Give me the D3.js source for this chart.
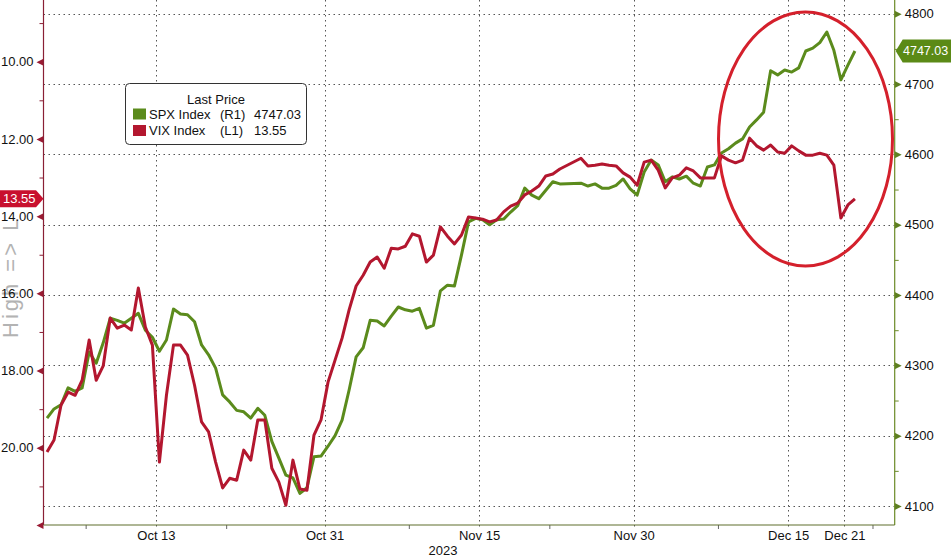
<!DOCTYPE html>
<html><head><meta charset="utf-8">
<script src="https://cdn.jsdelivr.net/npm/d3@7"></script>
<style>
html,body{margin:0;padding:0;background:#fff;}
svg{display:block;font-family:"Liberation Sans",Arial,sans-serif;}
</style></head>
<body><svg id="c" width="951" height="557"></svg>
<script>
// ---- data ----
const sessions = ["2023-10-03","2023-10-04","2023-10-05","2023-10-06","2023-10-09","2023-10-10","2023-10-11","2023-10-12","2023-10-13",
"2023-10-16","2023-10-17","2023-10-18","2023-10-19","2023-10-20","2023-10-23","2023-10-24","2023-10-25","2023-10-26","2023-10-27",
"2023-10-30","2023-10-31","2023-11-01","2023-11-02","2023-11-03","2023-11-06","2023-11-07","2023-11-08","2023-11-09","2023-11-10",
"2023-11-13","2023-11-14","2023-11-15","2023-11-16","2023-11-17","2023-11-20","2023-11-21","2023-11-22","2023-11-24",
"2023-11-27","2023-11-28","2023-11-29","2023-11-30","2023-12-01","2023-12-04","2023-12-05","2023-12-06","2023-12-07","2023-12-08",
"2023-12-11","2023-12-12","2023-12-13","2023-12-14","2023-12-15","2023-12-18","2023-12-19","2023-12-20","2023-12-21"];
// two readings per session (morning, afternoon)
const spx = [4225,4238, 4244,4268, 4263,4268, 4319,4303, 4332,4367, 4364,4360, 4367,4374, 4350,4340, 4320,4336,
4380,4373, 4372,4362, 4329,4315, 4296,4258, 4248,4236, 4234,4225, 4239,4229, 4192,4168, 4144,4140, 4118,4126,
4170,4171, 4185,4200, 4222,4265, 4312,4325, 4364,4363, 4356,4370, 4383,4379, 4377,4381, 4353,4357, 4406,4414,
4413,4457, 4504,4509, 4507,4500, 4507,4508, 4518,4527, 4552,4542, 4537,4549, 4561,4558, 4559,4555,
4558,4552, 4552,4556, 4565,4551, 4542,4575, 4592,4585, 4561,4568, 4565,4569, 4559,4555, 4582,4585, 4602,4608,
4616,4622, 4639,4649, 4660,4719, 4713,4720, 4717,4723, 4747,4751, 4759,4774, 4748,4706, 4727,4747.03];
const vix = [20.11,19.80, 18.89,18.56, 18.64,18.25, 17.21,18.25, 17.88,16.64, 16.90,16.82, 16.95,15.86, 16.87,17.34, 20.37,18.64,
17.34,17.34, 17.60,18.38, 19.33,19.59, 20.37,21.04, 20.79,20.84, 20.06,20.32, 19.28,19.28, 20.53,20.89, 21.49,20.32, 21.07,21.10,
19.67,19.28, 18.30,17.73, 17.16,16.43, 15.81,15.53, 15.19,15.06, 15.35,14.83, 14.85,14.78, 14.46,14.52, 15.19,15.01, 14.28,14.52,
14.72,14.49, 14.02,14.05, 14.08,14.15, 14.10,13.89, 13.74,13.66, 13.45,13.35, 13.22,12.96, 12.91,12.78, 12.50,12.70,
12.68,12.65, 12.68,12.70, 12.88,12.99, 13.20,12.60, 12.55,12.81, 13.27,13.01, 12.94,12.75, 12.83,13.01, 13.01,13.01, 12.44,12.55,
12.62,12.55, 11.98,12.18, 12.29,12.16, 12.34,12.37, 12.18,12.31, 12.42,12.42, 12.37,12.42, 12.68,14.05, 13.71,13.55];

const xTickDates = ["2023-10-13","2023-10-31","2023-11-15","2023-11-30","2023-12-15","2023-12-21"];
const xTickLabels = ["Oct 13","Oct 31","Nov 15","Nov 30","Dec 15","Dec 21"];
const xMinorDates = ["2023-10-06","2023-10-20","2023-11-08","2023-11-22","2023-12-08","2023-12-25"];
const rightTicks = [4100,4200,4300,4400,4500,4600,4700,4800];
const rightMinor = [4150,4250,4350,4450,4550,4650,4750];
const leftTicks = [10,12,14,16,18,20,22];
const leftMinor = [9,11,13,15,17,19,21];
const lastSpx = 4747.03, lastVix = 13.55;
const axisTitle = "High => Low";

// ---- layout ----
const X0 = 43.5, X1 = 894.7, YB = 525;
const GREEN = "#5b8b1c", RED = "#b3172f";
const FONT = "Liberation Sans, Arial, sans-serif";
const svg = d3.select("#c");

const parse = d3.utcParse("%Y-%m-%d");
const origin = parse("2023-10-03");
const wd = dt => d3.utcDays(origin, dt).filter(d => d.getUTCDay() % 6 !== 0).length;

const x = d3.scaleLinear().domain([0, 60.58]).range([X0, X1]);
const yR = d3.scaleLinear().domain([4073, 4819.5]).range([YB, 0]);
const yL = d3.scaleLinear().domain([8.402, 22.0]).range([0, YB]);

const pts = spx.map((v, i) => ({
  t: wd(parse(sessions[i >> 1])) + (i % 2 ? 0.75 : 0.25),
  spx: v, vix: vix[i]
}));

// axis title (upper part hidden behind the value tag, as in the original)
const tClipRect = svg.append("clipPath").attr("id", "tclip").append("rect").attr("x", 0).attr("y", 205).attr("width", 43).attr("height", 200);
const tTitle = svg.append("g").attr("clip-path", "url(#tclip)")
  .append("text")
  .attr("transform", "translate(17.5,338) rotate(-90)")
  .attr("font-size", 22).attr("fill", "#b3b3b3").attr("letter-spacing", 3)
  .style("white-space", "pre")
  .text(axisTitle);
try {
  const visLen = tTitle.node().getSubStringLength(0, 9);
  tClipRect.attr("y", 338 - visLen + 1);
} catch (e) {}

// gridlines
const grid = svg.append("g").attr("stroke", "#555").attr("stroke-dasharray", "1.5,3.5").attr("stroke-width", 1);
grid.selectAll("line.h").data(rightTicks).join("line")
  .attr("x1", X0).attr("x2", X1).attr("y1", d => Math.round(yR(d)) + 0.5).attr("y2", d => Math.round(yR(d)) + 0.5);
grid.selectAll("line.v").data(xTickDates).join("line")
  .attr("x1", d => Math.round(x(wd(parse(d)))) + 0.5).attr("x2", d => Math.round(x(wd(parse(d)))) + 0.5)
  .attr("y1", 0).attr("y2", YB + 4);

// lines
svg.append("clipPath").attr("id", "pclip").append("rect").attr("x", X0).attr("y", 0).attr("width", X1 - X0).attr("height", YB);
const gl = svg.append("g").attr("clip-path", "url(#pclip)");
gl.append("path").datum(pts)
  .attr("d", d3.line().x(d => x(d.t)).y(d => yR(d.spx)))
  .attr("fill", "none").attr("stroke", GREEN).attr("stroke-width", 3).attr("stroke-linejoin", "round");
gl.append("path").datum(pts)
  .attr("d", d3.line().x(d => x(d.t)).y(d => yL(d.vix)))
  .attr("fill", "none").attr("stroke", RED).attr("stroke-width", 3).attr("stroke-linejoin", "round");

// left axis
const fmt2 = d3.format(".2f");
const gL = svg.append("g").attr("transform", `translate(${X0},0)`)
  .call(d3.axisLeft(yL).tickValues(leftTicks).tickFormat(d => d === 22 ? "" : fmt2(d)).tickSize(0).tickPadding(10));
gL.select(".domain").remove();
gL.selectAll("text").attr("font-size", 13).attr("fill", "#111").attr("font-family", FONT);
gL.selectAll(".tick").append("path").attr("d", "M0,-3.5 L0,3.5 L-7,0 Z").attr("fill", "#9a1b33");
const gLm = svg.append("g").attr("transform", `translate(${X0},0)`)
  .call(d3.axisLeft(yL).tickValues(leftMinor).tickFormat("").tickSize(4));
gLm.select(".domain").remove();
gLm.selectAll("line").attr("stroke", "#8a2035");
svg.append("line").attr("x1", X0).attr("x2", X0).attr("y1", 0).attr("y2", YB).attr("stroke", "#8a2035").attr("stroke-width", 1.2);

// right axis
const gR = svg.append("g").attr("transform", `translate(${X1},0)`)
  .call(d3.axisRight(yR).tickValues(rightTicks).tickFormat(d3.format("d")).tickSize(0).tickPadding(10));
gR.select(".domain").remove();
gR.selectAll("text").attr("font-size", 13).attr("fill", "#111").attr("font-family", FONT);
gR.selectAll(".tick").append("path").attr("d", "M0,-3.5 L0,3.5 L7,0 Z").attr("fill", "#5e7f22");
const gRm = svg.append("g").attr("transform", `translate(${X1},0)`)
  .call(d3.axisRight(yR).tickValues(rightMinor).tickFormat("").tickSize(4));
gRm.select(".domain").remove();
gRm.selectAll("line").attr("stroke", "#6a8a2a");
svg.append("line").attr("x1", X1).attr("x2", X1).attr("y1", 0).attr("y2", YB).attr("stroke", "#6b8a26").attr("stroke-width", 1.2);

// bottom axis
const gB = svg.append("g").attr("transform", `translate(0,${YB})`)
  .call(d3.axisBottom(x).tickValues(xTickDates.map(d => wd(parse(d)))).tickFormat((d, i) => xTickLabels[i]).tickSize(0).tickPadding(6));
gB.select(".domain").remove();
gB.selectAll("text").attr("font-size", 13).attr("fill", "#111").attr("font-family", FONT);
const gBm = svg.append("g").attr("transform", `translate(0,${YB})`)
  .call(d3.axisBottom(x).tickValues(xMinorDates.map(d => wd(parse(d)))).tickFormat("").tickSize(4));
gBm.select(".domain").remove();
gBm.selectAll("line").attr("stroke", "#666");
svg.append("line").attr("x1", X0).attr("x2", X1).attr("y1", YB).attr("y2", YB).attr("stroke", "#5f6e2c").attr("stroke-width", 1.2);
svg.append("text").attr("x", 443).attr("y", 555).attr("text-anchor", "middle")
  .attr("font-size", 13).attr("fill", "#111").text("2023");

// last value tags
const yv = yL(lastVix);
svg.append("path").attr("d", `M0,${yv - 8.5} L36,${yv - 8.5} L${X0},${yv} L36,${yv + 8.5} L0,${yv + 8.5} Z`).attr("fill", "#c8102e");
svg.append("text").attr("x", 3).attr("y", yv + 4.5).attr("font-size", 13).attr("fill", "#fff").text(fmt2(lastVix));
const ys = yR(lastSpx);
svg.append("path").attr("d", `M${X1 + 1},${ys} L${X1 + 8},${ys - 11.5} L951,${ys - 11.5} L951,${ys + 11.5} L${X1 + 8},${ys + 11.5} Z`).attr("fill", "#5b8a16");
svg.append("text").attr("x", 903).attr("y", ys + 4.5).attr("font-size", 12.5).attr("fill", "#fff").text(d3.format(".2f")(lastSpx));

// legend
const lg = svg.append("g");
lg.append("rect").attr("x", 125.5).attr("y", 83.5).attr("width", 181).attr("height", 61).attr("rx", 4)
  .attr("fill", "#fff").attr("stroke", "#333").attr("stroke-width", 1);
lg.append("text").attr("x", 216).attr("y", 104).attr("text-anchor", "middle").attr("font-size", 13).attr("fill", "#111").text("Last Price");
const legRows = [
  {name: "SPX Index", axis: "(R1)", val: d3.format(".2f")(lastSpx), color: GREEN},
  {name: "VIX Index", axis: "(L1)", val: fmt2(lastVix), color: RED}
];
legRows.forEach((r, i) => {
  const by = 118.5 + i * 16.5;
  lg.append("rect").attr("x", 133).attr("y", by - 10).attr("width", 13).attr("height", 11).attr("fill", r.color);
  lg.append("text").attr("x", 149).attr("y", by).attr("font-size", 13).attr("fill", "#111").text(r.name);
  lg.append("text").attr("x", 220).attr("y", by).attr("font-size", 13).attr("fill", "#111").text(r.axis);
  lg.append("text").attr("x", 254).attr("y", by).attr("font-size", 13).attr("fill", "#111").text(r.val);
});

// highlight ellipse
svg.append("ellipse").attr("cx", 805.5).attr("cy", 139).attr("rx", 87).attr("ry", 127)
  .attr("fill", "none").attr("stroke", "#d4202c").attr("stroke-width", 3);
</script></body></html>
